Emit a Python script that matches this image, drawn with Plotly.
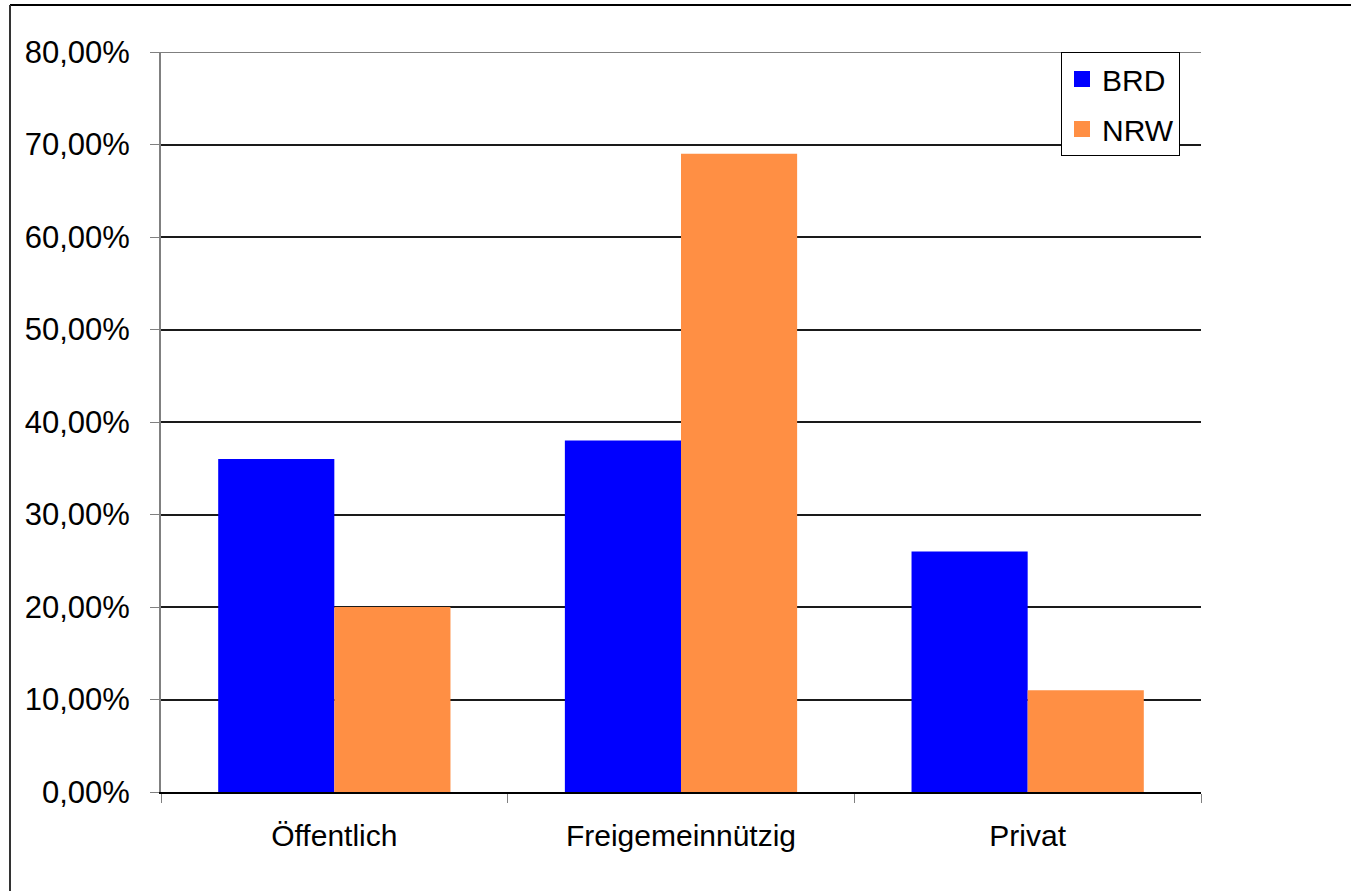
import plotly.graph_objects as go

categories = ["Öffentlich", "Freigemeinnützig", "Privat"]
brd = [0.36, 0.38, 0.26]
nrw = [0.20, 0.69, 0.11]
y_ticks = [0, 0.1, 0.2, 0.3, 0.4, 0.5, 0.6, 0.7, 0.8]
y_max = 0.8

BLUE = "#0000FF"
ORANGE = "#FF8F44"
FONT = "Liberation Sans, Arial, sans-serif"

fig = go.Figure()
fig.add_trace(go.Bar(name="BRD", x=categories, y=brd, showlegend=False,
                     marker=dict(color=BLUE, line=dict(width=0))))
fig.add_trace(go.Bar(name="NRW", x=categories, y=nrw, showlegend=False,
                     marker=dict(color=ORANGE, line=dict(width=0))))

# legend entries with larger square keys
for name, color in [("BRD", BLUE), ("NRW", ORANGE)]:
    fig.add_trace(go.Scatter(name=name, x=[None], y=[None], mode="markers", legendgroup=name,
                             marker=dict(symbol="square", size=16, color=color)))

W, H = 1351, 891
L, R, T, B = 161, 150, 52, 99
pw, ph = W - L - R, H - T - B

def px(x):
    return (x - L) / pw

def py(y):
    return (H - B - y) / ph

fig.update_layout(
    width=W, height=H,
    margin=dict(l=L, r=R, t=T, b=B, pad=0),
    paper_bgcolor="white", plot_bgcolor="white",
    separators=",.",
    barmode="group", bargap=0.33, bargroupgap=0,
    font=dict(family=FONT, size=31, color="black"),
    showlegend=True,
    legend=dict(
        x=px(1061), y=1.0, xanchor="left", yanchor="top",
        bordercolor="black", borderwidth=1, bgcolor="white",
        font=dict(family=FONT, size=30, color="black"),
        itemwidth=30, tracegroupgap=8, traceorder="grouped",
    ),
    xaxis=dict(
        showgrid=False, showline=True, linecolor="black", linewidth=2,
        ticks="outside", tickson="boundaries", ticklen=9, tickcolor="#808080", tickwidth=1,
        tickfont=dict(family=FONT, size=30, color="black"),
        ticklabelstandoff=16,
    ),
    yaxis=dict(
        range=[0, y_max], tickvals=y_ticks, tickformat=".2%",
        showgrid=True, gridcolor="#1a1a1a", gridwidth=1.5,
        showline=True, linecolor="#808080", linewidth=2,
        ticks="outside", ticklen=9, tickcolor="#808080", tickwidth=1,
        tickfont=dict(family=FONT, size=31, color="black"),
        zeroline=False, ticklabelstandoff=14,
    ),
    shapes=[
        # top gridline at the end of the value range
        dict(type="line", xref="paper", yref="y", x0=0, x1=1, y0=y_max, y1=y_max,
             line=dict(color="#555555", width=1.5), layer="below"),
        # frame around the chart
        dict(type="line", xref="paper", yref="paper", x0=px(10), x1=px(W + 5), y0=py(5), y1=py(5),
             line=dict(color="black", width=2)),
        dict(type="line", xref="paper", yref="paper", x0=px(10), x1=px(10), y0=py(5), y1=py(H + 5),
             line=dict(color="#333333", width=2)),
    ],
)

fig.write_html("out.html")
